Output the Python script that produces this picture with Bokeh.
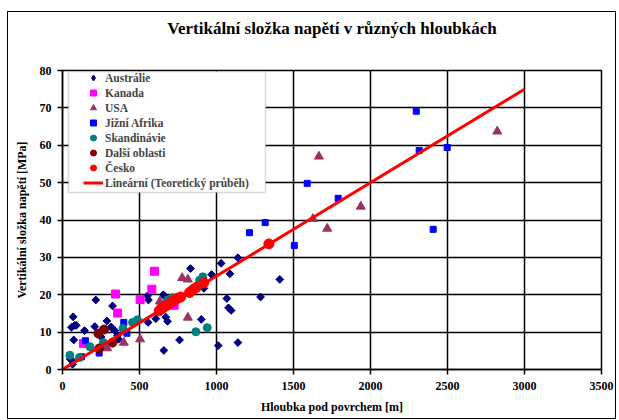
from bokeh.plotting import figure
from bokeh.models import Range1d, FixedTicker, BoxAnnotation, LinearAxis
from bokeh.embed import file_html
from bokeh.resources import INLINE

# ---- data ----
aus_x = [69, 58, 78, 89, 73, 60, 65, 50, 143, 216, 210, 251, 288, 325, 316, 327, 340, 357, 364,
         556, 552, 558, 606, 654, 666, 671, 682, 658, 760, 831, 901, 918, 968, 1011, 1030, 1067,
         1078, 1095, 1087, 1139, 1139, 1286, 1411]
aus_y = [14.1, 11.3, 11.8, 11.8, 7.9, 2.5, 1.4, 2.8, 10.4, 18.6, 11.5, 8.7, 13.0, 17.0, 11.4, 10.8, 10.4, 9.0, 8.1,
         12.6, 19.7, 18.6, 13.6, 20.0, 19.5, 14.0, 12.9, 5.1, 7.9, 27.0, 13.4, 21.7, 25.4, 6.4, 28.4, 19.0,
         16.5, 15.8, 25.6, 7.2, 29.9, 19.4, 24.1]

kan_x = [136, 344, 358, 504, 580, 597, 725]
kan_y = [7.0, 20.2, 15.1, 18.7, 21.5, 26.3, 17.2]

usa_x = [290, 398, 504, 632, 777, 814, 814, 1626, 1665, 1719, 1937, 2823]
usa_y = [5.7, 7.2, 8.1, 18.2, 24.5, 24.1, 13.9, 40.3, 57.0, 37.7, 43.6, 63.7]

jaf_x = [123, 149, 238, 398, 418, 1214, 1316, 1505, 1589, 1790, 2297, 2316, 2407, 2498]
jaf_y = [3.4, 7.7, 4.4, 12.6, 9.7, 36.6, 39.3, 33.2, 49.8, 45.8, 69.1, 58.6, 37.5, 59.4]

ska_x = [48, 110, 178, 265, 393, 455, 487, 660, 682, 714, 866, 890, 911, 940]
ska_y = [3.8, 3.2, 6.1, 7.2, 11.0, 12.6, 13.3, 17.0, 18.6, 19.2, 10.1, 23.9, 24.8, 11.2]

dal_x = [233, 270, 238, 325]
dal_y = [9.6, 10.7, 5.6, 7.2]

ces_x = [628, 638, 650, 662, 675, 690, 705, 720, 735, 750, 768, 825, 838, 853, 870, 918, 1340]
ces_y = [15.7, 16.2, 16.4, 16.8, 17.1, 17.5, 18.0, 18.4, 18.8, 19.1, 19.4, 20.6, 21.0, 21.5, 22.0, 23.2, 33.6]

lin_x = [0, 3000]
lin_y = [0, 75]

x_ticks = [0, 500, 1000, 1500, 2000, 2500, 3000, 3500]
y_ticks = [0, 10, 20, 30, 40, 50, 60, 70, 80]

TITLE = "Vertikální složka napětí v různých hloubkách"
FONT = "Liberation Serif"

p = figure(width=609, height=408, x_range=Range1d(0, 3500), y_range=Range1d(0, 80),
           output_backend="svg", toolbar_location=None,
           min_border_left=54, min_border_right=16, min_border_top=58, min_border_bottom=51)
p.styles = {"border": "1px solid #000000", "margin-left": "7px", "margin-top": "11px"}

p.outline_line_color = "black"
p.outline_line_width = 1.5

xax = p.below[0]
yax = p.left[0]
for ax in (xax, yax):
    ax.axis_label_text_font = FONT
    ax.axis_label_text_font_style = "bold"
    ax.axis_label_text_font_size = "12px"
    ax.axis_label_text_color = "black"
    ax.major_label_text_font = FONT
    ax.major_label_text_font_style = "bold"
    ax.major_label_text_font_size = "12px"
    ax.major_label_text_color = "black"
    ax.major_tick_out = 5
    ax.major_tick_in = 0
    ax.minor_tick_out = 0
    ax.minor_tick_in = 0
    ax.axis_line_color = "black"
    ax.axis_line_width = 1.5
    ax.major_tick_line_color = "black"
    ax.major_tick_line_width = 1.5

xax.ticker = FixedTicker(ticks=x_ticks)
yax.ticker = FixedTicker(ticks=y_ticks)
xax.axis_label = "Hloubka pod povrchem [m]"
yax.axis_label = "Vertikální složka napětí [MPa]"
xax.major_label_standoff = 7
yax.major_label_standoff = 6
xax.axis_label_standoff = 7
yax.axis_label_standoff = 8

# chart title, drawn as the label of a bare axis above the frame
title_axis = LinearAxis(ticker=FixedTicker(ticks=[]), axis_label=TITLE,
                        axis_line_alpha=0, major_tick_out=0, major_tick_in=0,
                        minor_tick_out=0, minor_tick_in=0,
                        axis_label_text_font=FONT, axis_label_text_font_size="17px",
                        axis_label_text_font_style="bold", axis_label_text_color="black",
                        axis_label_standoff=33)
p.add_layout(title_axis, "above")

p.xgrid.ticker = FixedTicker(ticks=x_ticks)
p.ygrid.ticker = FixedTicker(ticks=y_ticks)
for g in (p.xgrid[0], p.ygrid[0]):
    g.grid_line_color = "black"
    g.grid_line_width = 1.5

# legend frame (white box)
box = BoxAnnotation(left=59, right=256, top=58, bottom=179,
                    left_units="canvas", right_units="canvas",
                    top_units="canvas", bottom_units="canvas",
                    fill_color="white", fill_alpha=1.0,
                    line_color="#808080", line_width=1.5)
p.add_layout(box)

# Austrálie: a diamond layer (gives the legend its diamond) covered by rotated squares
p.scatter(aus_x, aus_y, marker="diamond", size=7, color="#000080", legend_label="Austrálie")
p.scatter(aus_x, aus_y, marker="square", angle=0.785398, size=5.5, color="#000080")
p.scatter(kan_x, kan_y, marker="square", size=8, color="#FF00FF", legend_label="Kanada")
p.scatter(usa_x, usa_y, marker="triangle", size=9, color="#993366", legend_label="USA")
p.scatter(jaf_x, jaf_y, marker="square", size=6, color="#0000FF", legend_label="Jižní Afrika")
p.scatter(ska_x, ska_y, marker="circle", size=8, color="#008080", legend_label="Skandinávie")
p.scatter(dal_x, dal_y, marker="circle", size=9, color="#800000", legend_label="Další oblasti")
p.scatter(ces_x, ces_y, marker="circle", size=10, color="#FF0000", legend_label="Česko")
p.line(lin_x, lin_y, line_color="#FF0000", line_width=3, legend_label="Lineární (Teoretický průběh)")

lg = p.legend[0]
lg.location = (5, 163)
lg.padding = 16
lg.margin = 0
lg.spacing = 0
lg.glyph_width = 20
lg.glyph_height = 15
lg.label_height = 15
lg.label_standoff = 2
lg.label_text_font = FONT
lg.label_text_font_style = "bold"
lg.label_text_font_size = "11.5px"
lg.background_fill_alpha = 0
lg.border_line_alpha = 0

open("out.html", "w").write(file_html(p, INLINE))
